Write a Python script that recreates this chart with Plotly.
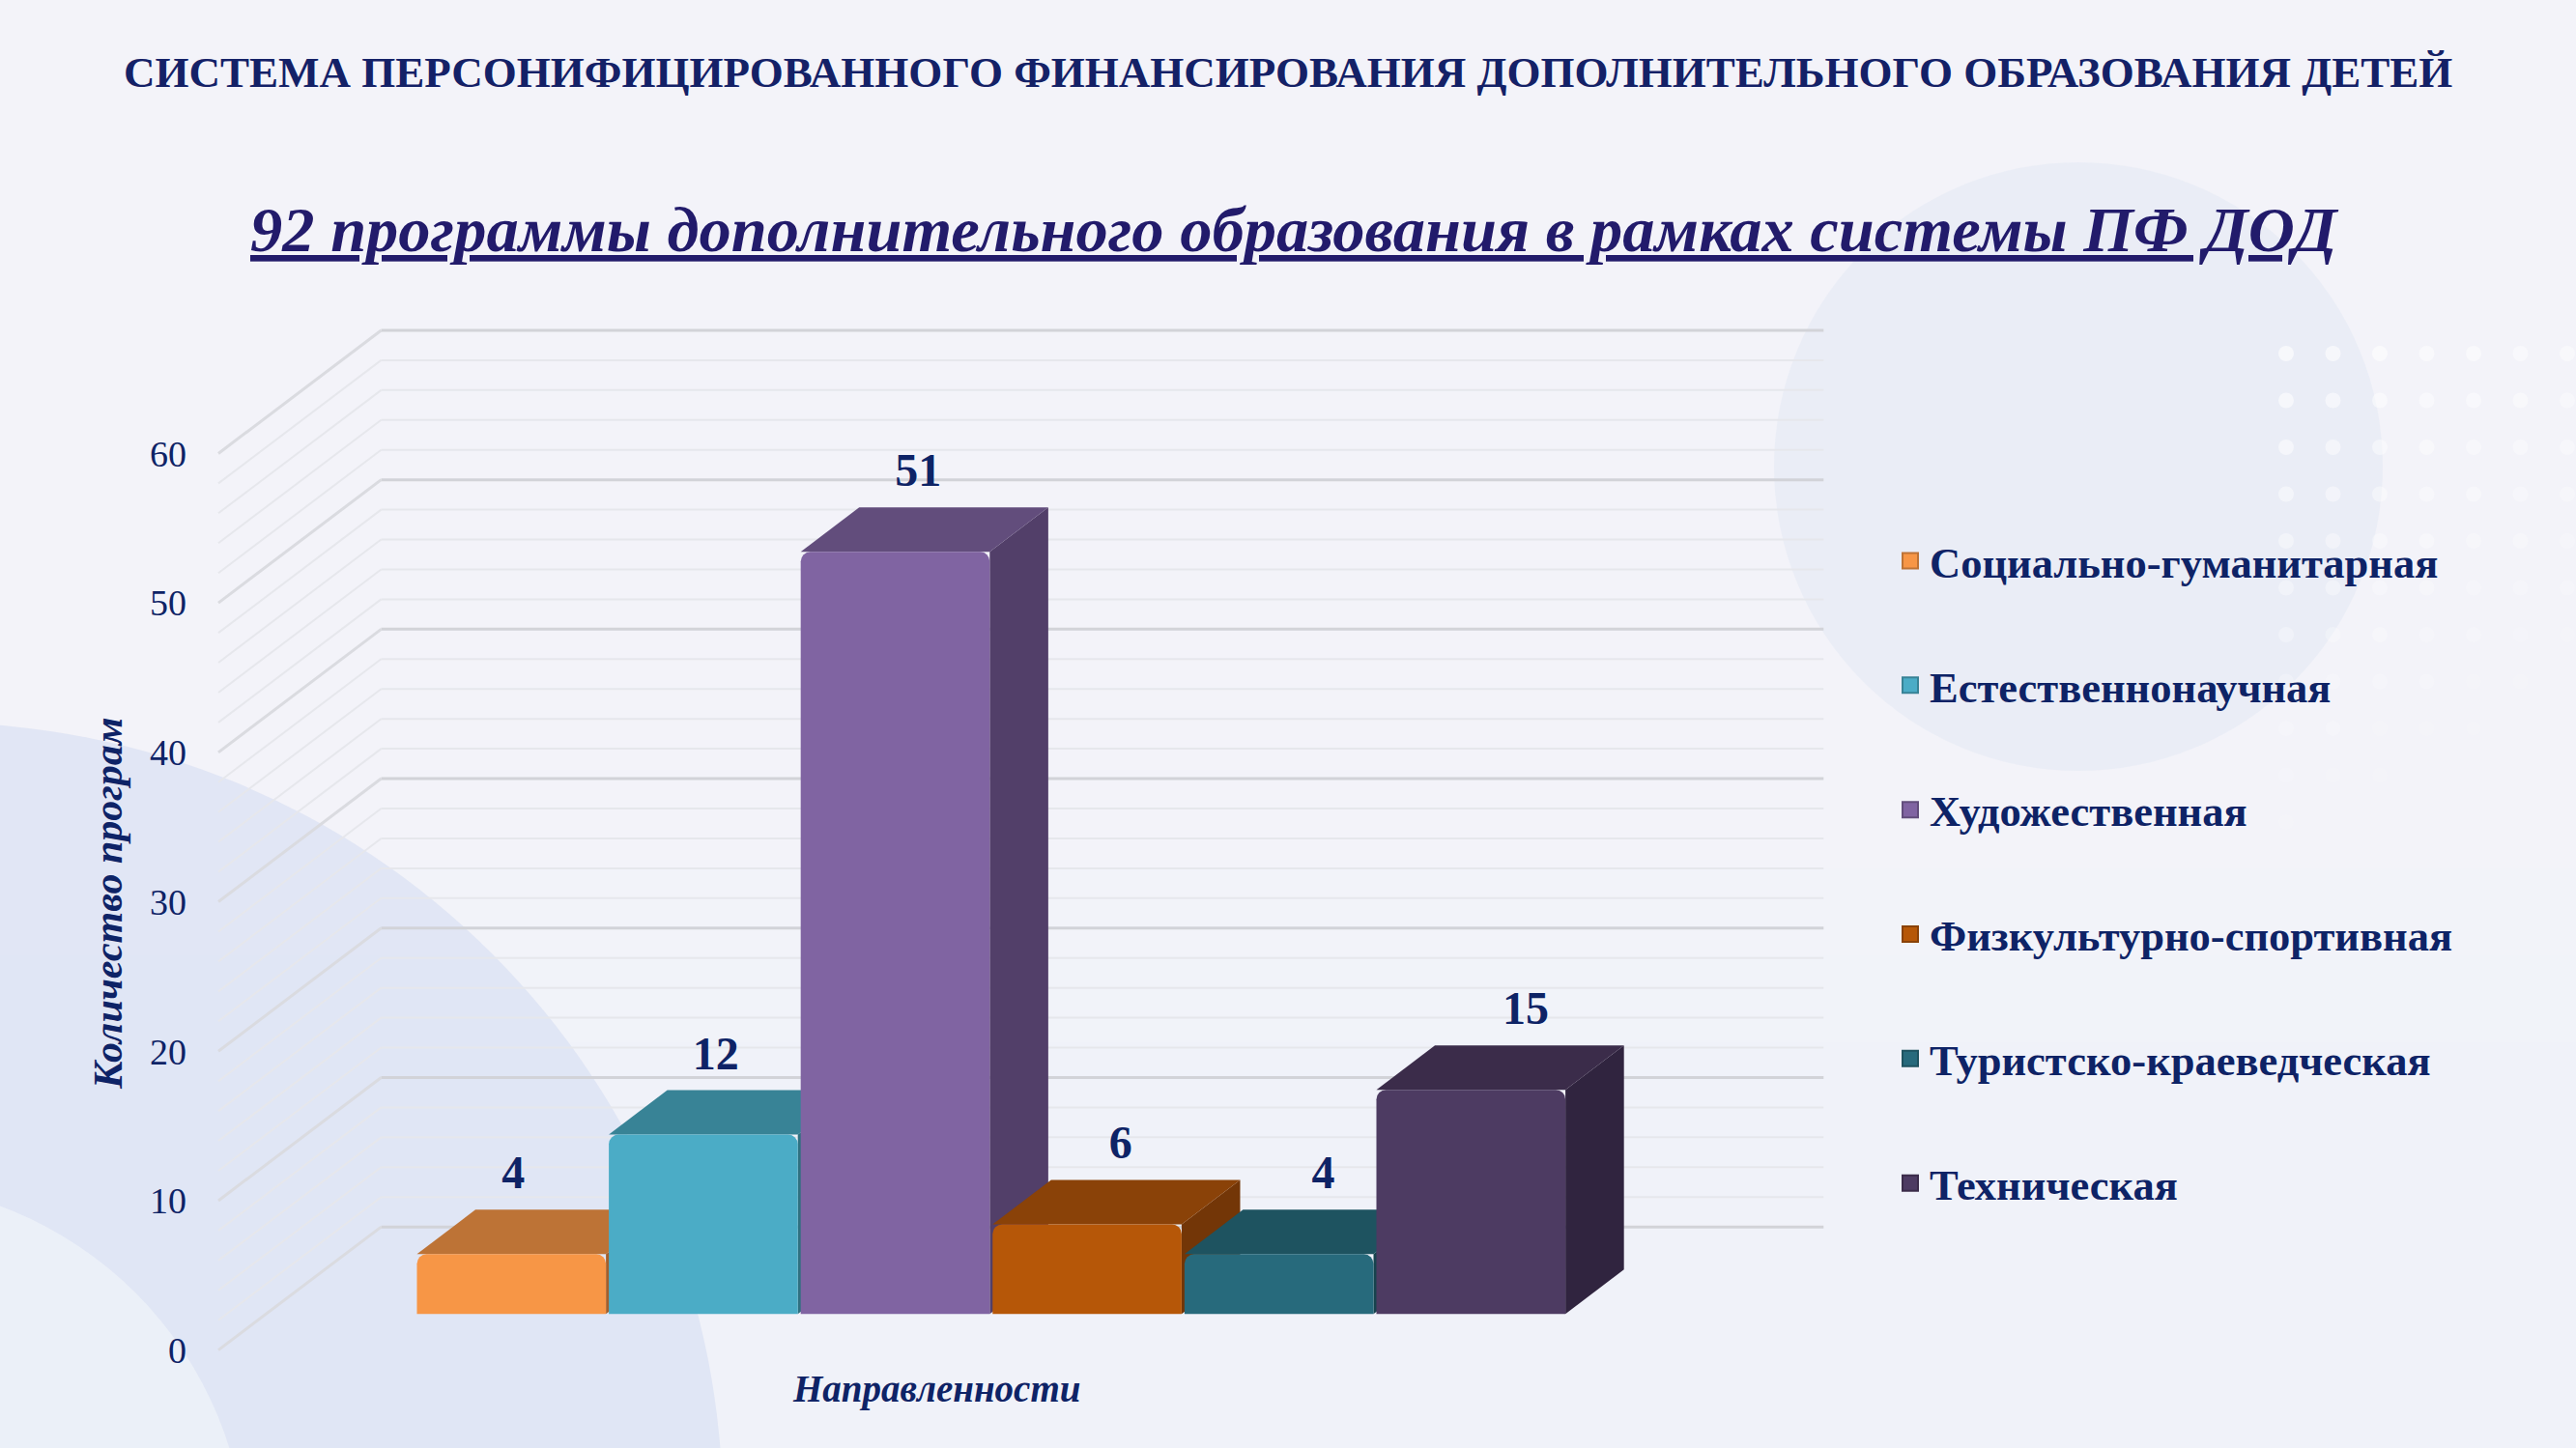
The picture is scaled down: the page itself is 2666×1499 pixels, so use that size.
import plotly.graph_objects as go

# ---------------- data ----------------
categories = ["Социально-гуманитарная", "Естественнонаучная", "Художественная",
              "Физкультурно-спортивная", "Туристско-краеведческая", "Техническая"]
values = [4, 12, 51, 6, 4, 15]
y_ticks = [0, 10, 20, 30, 40, 50, 60]

front_colors = ["#F79646", "#4BACC6", "#8064A2", "#B65708", "#276A7C", "#4D3B62"]
top_colors = ["#BD7336", "#388396", "#624D7C", "#8A4208", "#1E5360", "#3B2C4A"]
side_colors = ["#A35F2B", "#2F7080", "#523F69", "#733607", "#17434E", "#30243F"]

title_main = "СИСТЕМА ПЕРСОНИФИЦИРОВАННОГО ФИНАНСИРОВАНИЯ ДОПОЛНИТЕЛЬНОГО ОБРАЗОВАНИЯ ДЕТЕЙ"
title_sub = "92 программы дополнительного образования в рамках системы ПФ ДОД"
y_title = "Количество програм"
x_title = "Направленности"

# ---------------- geometry (pixels of the 2666x1499 page) ----------------
W, H = 2666, 1499
X0_PX, PITCH = 529.3, 198.6        # centre of first bar, distance between bars
Y0_PX, UNIT = 1360.2, 15.47        # baseline of bars, px per unit
L, R, T, B = 190, 1990, 300, 1460  # plot box

def px_to_x(px):
    return (px - X0_PX) / PITCH

def py_to_v(py):
    return (Y0_PX - py) / UNIT

BAR_W = 0.985
DEPTH_DX, DEPTH_DY = 0.305, 2.97          # bar depth (top / side faces)
WALL_FRONT_X, WALL_FRONT_DY = px_to_x(226), -2.42
WALL_BACK_X, WALL_BACK_DY = px_to_x(394.5), 5.82
WALL_RIGHT_X = px_to_x(1887.3)

NAVY = "#0E2366"
FONT = "Liberation Serif"

fig = go.Figure()
shapes = []

# ---------- background ----------
for k in range(12):
    shapes.append(dict(type="rect", xref="paper", yref="paper", layer="below",
                       x0=0, x1=1, y0=1 - (k + 1) * 0.06, y1=1,
                       fillcolor="rgba(255,255,255,0.075)", line=dict(width=0)))

def circ(cx, cy, r, color):
    return dict(type="circle", xref="paper", yref="paper", layer="below",
                x0=(cx - r) / W, x1=(cx + r) / W, y0=1 - (cy + r) / H, y1=1 - (cy - r) / H,
                fillcolor=color, line=dict(width=0))

shapes.append(circ(2151, 483, 315, "rgba(222,228,242,0.38)"))
shapes.append(circ(-68, 1564, 816, "rgba(214,222,242,0.6)"))
shapes.append(circ(-136, 1615, 391, "rgba(240,243,250,0.7)"))
for ci in range(7):
    for ri in range(11):
        cx = 2366 + ci * 48.5
        cy = 366 + ri * 48.5
        op = max(0.0, 0.6 - 0.05 * ri - 0.03 * ci)
        shapes.append(dict(type="circle", xref="paper", yref="paper", layer="below",
                           x0=(cx - 8) / W, x1=(cx + 8) / W,
                           y0=1 - (cy + 8) / H, y1=1 - (cy - 8) / H,
                           fillcolor="rgba(255,255,255,%.2f)" % op, line=dict(width=0)))

# ---------- walls: back-wall lines and side diagonals ----------
for v in range(0, 61, 2):
    major = v % 10 == 0
    col = "#D2D3D8" if major else "#E6E7EC"
    wid = 3 if major else 2
    shapes.append(dict(type="line", xref="x", yref="y", layer="below",
                       x0=WALL_BACK_X, x1=WALL_RIGHT_X,
                       y0=v + WALL_BACK_DY, y1=v + WALL_BACK_DY,
                       line=dict(color=col, width=wid)))
    shapes.append(dict(type="line", xref="x", yref="y", layer="below",
                       x0=WALL_FRONT_X, x1=WALL_BACK_X,
                       y0=v + WALL_FRONT_DY, y1=v + WALL_BACK_DY,
                       line=dict(color="#DADBE0" if major else "#E6E7EC", width=wid)))

# ---------- 3D faces of the bars (side + top) ----------
for i, v in enumerate(values):
    xl, xr = i - BAR_W / 2, i + BAR_W / 2
    side = "M %f,%f L %f,%f L %f,%f L %f,%f Z" % (
        xr, 0, xr, v, xr + DEPTH_DX, v + DEPTH_DY, xr + DEPTH_DX, DEPTH_DY)
    top = "M %f,%f L %f,%f L %f,%f L %f,%f Z" % (
        xl, v, xr, v, xr + DEPTH_DX, v + DEPTH_DY, xl + DEPTH_DX, v + DEPTH_DY)
    shapes.append(dict(type="path", xref="x", yref="y", layer="below", path=side,
                       fillcolor=side_colors[i], line=dict(width=0)))
    shapes.append(dict(type="path", xref="x", yref="y", layer="below", path=top,
                       fillcolor=top_colors[i], line=dict(width=0)))

# ---------- front faces ----------
fig.add_trace(go.Bar(
    x=list(range(len(values))), y=values, width=BAR_W,
    marker=dict(color=front_colors, line=dict(width=0), cornerradius=10),
    showlegend=False, hoverinfo="skip"))

# ---------- value labels ----------
fig.add_trace(go.Scatter(
    x=[i + 0.01 + 0.055 * i for i in range(len(values))],
    y=[v + DEPTH_DY + 2.2 for v in values],
    mode="text", text=[str(v) for v in values], textposition="middle center",
    textfont=dict(family=FONT, size=48, color=NAVY, weight="bold"),
    showlegend=False, hoverinfo="skip", cliponaxis=False))

# ---------- legend entries (on the tick-label axis) ----------
for i, c in enumerate(categories):
    fig.add_trace(go.Scatter(
        x=[None], y=[None], mode="markers", name=c, legendgroup=str(i), yaxis="y2",
        marker=dict(symbol="square", size=16, color=front_colors[i],
                    line=dict(color=top_colors[i], width=2))))

x_range = [px_to_x(L), px_to_x(R)]
y_range = [py_to_v(B), py_to_v(T)]

fig.update_layout(
    width=W, height=H,
    margin=dict(l=0, r=0, t=0, b=0),
    paper_bgcolor="#F0F2F9",
    plot_bgcolor="rgba(0,0,0,0)",
    shapes=shapes,
    xaxis=dict(domain=[L / W, R / W], range=x_range, visible=False, fixedrange=True),
    yaxis=dict(domain=[1 - B / H, 1 - T / H], range=y_range, visible=False),
    yaxis2=dict(overlaying="y", anchor="free", position=226 / W, side="left",
                range=[y_range[0] - WALL_FRONT_DY, y_range[1] - WALL_FRONT_DY],
                tickvals=y_ticks, ticktext=[str(t) for t in y_ticks],
                showgrid=False, zeroline=False, showline=False, ticks="",
                ticklabelstandoff=33,
                tickfont=dict(family=FONT, size=38, color=NAVY)),
    legend=dict(x=1957 / W, y=1 - 545 / H, xanchor="left", yanchor="top",
                bgcolor="rgba(0,0,0,0)", tracegroupgap=68,
                font=dict(family=FONT, size=44.5, color=NAVY, weight="bold")),
    annotations=[
        dict(text="<b>" + title_main + "</b>", xref="paper", yref="paper",
             x=0.5, y=1 - 75 / H, xanchor="center", yanchor="middle", showarrow=False,
             font=dict(family=FONT, size=45, color="#142167")),
        dict(text="<b><i><u>" + title_sub + "</u></i></b>", xref="paper", yref="paper",
             x=1340 / W, y=1 - 237 / H, xanchor="center", yanchor="middle", showarrow=False,
             font=dict(family=FONT, size=66.5, color="#221B6B")),
        dict(text="<b><i>" + y_title + "</i></b>", xref="paper", yref="paper",
             x=112 / W, y=1 - 935 / H, xanchor="center", yanchor="middle", showarrow=False,
             textangle=-90, font=dict(family=FONT, size=42, color=NAVY)),
        dict(text="<b><i>" + x_title + "</i></b>", xref="paper", yref="paper",
             x=969 / W, y=1 - 1438 / H, xanchor="center", yanchor="middle", showarrow=False,
             font=dict(family=FONT, size=39, color=NAVY)),
    ],
)
fig.write_html("out.html", config={"displayModeBar": False},
               post_script="document.body.style.margin='0';document.body.style.overflow='hidden';")
